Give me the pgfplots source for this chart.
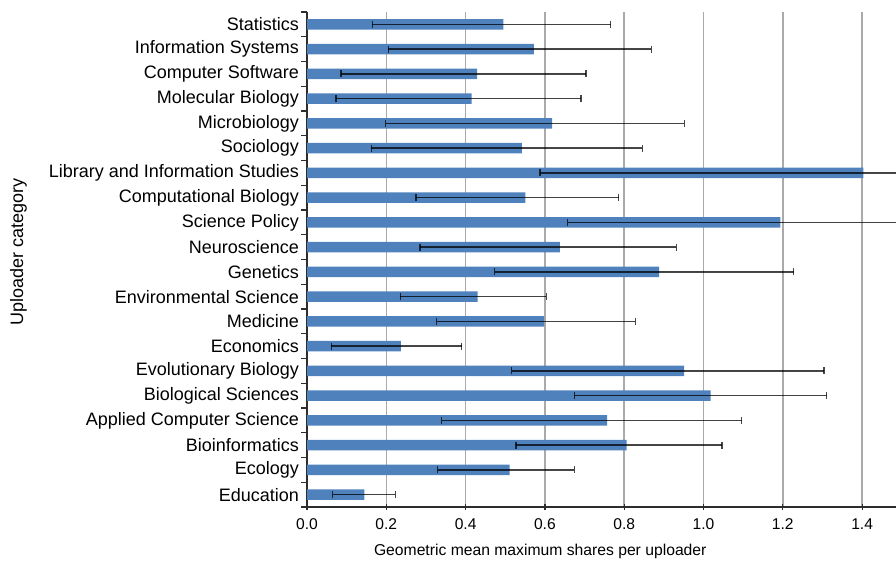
\documentclass[border=0pt]{standalone}
\usepackage{pgfplots}
\pgfplotsset{compat=1.18}
\usepackage{pgfplotstable}
\usepackage{fontspec}
\setmainfont{Liberation Sans}
\definecolor{barblue}{RGB}{79,129,189}
\definecolor{gridgray}{RGB}{170,170,170}
\definecolor{axisgray}{RGB}{45,45,45}

\pgfplotstableread{
y x ep em
1 0.145 0.078 0.080
2 0.511 0.163 0.181
3 0.806 0.241 0.279
4 0.757 0.339 0.417
5 1.018 0.293 0.344
6 0.951 0.353 0.435
7 0.237 0.153 0.176
8 0.598 0.230 0.271
9 0.430 0.174 0.195
10 0.888 0.339 0.415
11 0.638 0.293 0.353
12 1.194 0.500 0.537
13 0.551 0.235 0.276
14 1.403 0.400 0.815
15 0.542 0.304 0.380
16 0.618 0.334 0.420
17 0.415 0.276 0.342
18 0.429 0.275 0.343
19 0.572 0.296 0.367
20 0.495 0.271 0.330
}\datatable

\begin{document}
\begin{tikzpicture}
\useasboundingbox (0,0) rectangle (896pt,562pt);
\begin{axis}[
  at={(307pt,55pt)}, anchor=south west,
  scale only axis, width=589pt, height=495pt,
  xmin=0, xmax=1.4855, ymin=0.5, ymax=20.5,
  axis x line*=bottom, axis y line*=left,
  axis line style={axisgray, line width=1.3pt},
  xtick={0,0.2,0.4,0.6,0.8,1.0,1.2,1.4},
  xticklabel style={/pgf/number format/.cd, fixed, fixed zerofill, precision=1, /tikz/.cd, font=\fontsize{15.6}{18}\selectfont, yshift=-2pt},
  /pgf/number format/assume math mode=true,
  ytick={0.5,1.5,...,19.5},
  yticklabels={Education,Ecology,Bioinformatics,Applied Computer Science,Biological Sciences,Evolutionary Biology,Economics,Medicine,Environmental Science,Genetics,Neuroscience,Science Policy,Computational Biology,Library and Information Studies,Sociology,Microbiology,Molecular Biology,Computer Software,Information Systems,Statistics},
  yticklabel style={font=\fontsize{18}{20}\selectfont, yshift=12.375pt, xshift=1.5pt},
  extra y ticks={20.5}, extra y tick labels={},
  tick align=outside, major tick length=6pt,
  tick style={axisgray, line width=1.2pt},
  xtick style={yshift=3pt},
  xmajorgrids, major grid style={gridgray, line width=1.5pt},
  xlabel={Geometric mean maximum shares per uploader},
  ylabel={Uploader category},
  every axis x label/.style={at={(axis description cs:0.396,-0.089)}, anchor=center, font=\fontsize{15.7}{18}\selectfont},
  every axis y label/.style={at={(axis description cs:-0.49,0.516)}, anchor=center, rotate=90, font=\fontsize{18}{20}\selectfont},
]
\addplot[xbar, bar width=10.5pt, fill=barblue, draw=none,
  error bars/.cd, x dir=both, x explicit,
  error mark=|,
  error bar style={line width=1.3pt, black, opacity=0.72},
  error mark options={line width=1.3pt, black, opacity=0.72, mark size=3.5pt}]
  table[x=x, y=y, x error plus=ep, x error minus=em]{\datatable};
\end{axis}
\end{tikzpicture}
\end{document}
